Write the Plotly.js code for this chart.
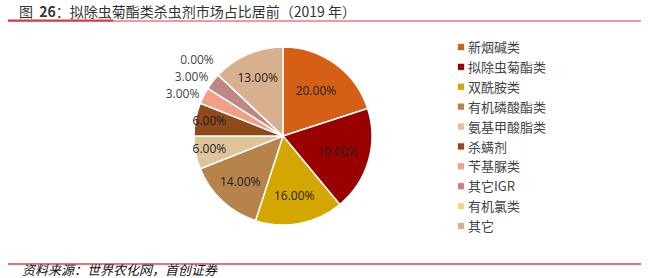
<!DOCTYPE html>
<html><head><meta charset="utf-8">
<script src="https://cdn.plot.ly/plotly-3.0.1.min.js"></script>
<style>
html,body{margin:0;padding:0;background:#fff;}
#chart{width:667px;height:278px;}
#chart .legendpie{transform: translate(33px,0px) scale(0.6);}
#chart path.textline{display:none;}
</style></head>
<body><div id="chart"></div>
<script>
const categories = ['新烟碱类','拟除虫菊酯类','双酰胺类','有机磷酸酯类','氨基甲酸脂类','杀螨剂','苄基脲类','其它IGR','有机氯类','其它'];
const shares = [20, 19, 16, 14, 6, 6, 3, 3, 0, 13];
const colors = ['#D56015','#990000','#D4A700','#B5834B','#DFC49A','#8E4A1C','#F0A084','#C08585','#F7D48A','#D8B08E'];
const textPositions = ['inside','inside','inside','inside','inside','inside','outside','outside','outside','inside'];
const titleText = '图  <b>26</b>：拟除虫菊酯类杀虫剂市场占比居前（2019 年）';
const sourceText = '资料来源：世界农化网，首创证券';

const W = 667, H = 278;
const cx = 283, cy = 136, r = 89;

const trace = {
  type: 'pie',
  labels: categories,
  values: shares,
  sort: false,
  direction: 'clockwise',
  rotation: 0,
  marker: {colors: colors, line: {color: '#ffffff', width: 1.5}},
  texttemplate: '%{value:.2f}%',
  textposition: textPositions,
  insidetextorientation: 'horizontal',
  textfont: {family: 'Open Sans, Noto Sans CJK SC', size: 12, color: '#222'},
  outsidetextfont: {family: 'Open Sans, Noto Sans CJK SC', size: 12, color: '#444'},
  hoverinfo: 'none',
  domain: {x: [(cx - r) / W, (cx + r) / W], y: [(H - cy - r) / H, (H - cy + r) / H]}
};

const layout = {
  width: W, height: H,
  margin: {l: 0, r: 0, t: 0, b: 0},
  paper_bgcolor: '#ffffff',
  showlegend: true,
  legend: {
    x: 428 / W, y: 1 - 32 / H, xanchor: 'left', yanchor: 'top',
    font: {family: 'Noto Sans CJK SC', size: 13, color: '#444'},
    tracegroupgap: 0, bgcolor: 'rgba(0,0,0,0)'
  },
  shapes: [
    {type: 'line', xref: 'paper', yref: 'paper', x0: 8 / W, x1: 641 / W, y0: 1 - 21 / H, y1: 1 - 21 / H, line: {color: '#D9363E', width: 1}},
    {type: 'line', xref: 'paper', yref: 'paper', x0: 8 / W, x1: 113 / W, y0: 1 - 20.5 / H, y1: 1 - 20.5 / H, line: {color: '#D9363E', width: 2}},
    {type: 'line', xref: 'paper', yref: 'paper', x0: 8 / W, x1: 641 / W, y0: 1 - 264 / H, y1: 1 - 264 / H, line: {color: '#E0454F', width: 1.5}}
  ],
  annotations: [
    {text: titleText, xref: 'paper', yref: 'paper', x: 17 / W, y: 1 - 11 / H,
     xanchor: 'left', yanchor: 'middle', align: 'left', showarrow: false,
     font: {family: 'Noto Sans CJK SC', size: 14, color: '#333'}},
    {text: '<i>' + sourceText + '</i>', xref: 'paper', yref: 'paper', x: 20 / W, y: 1 - 269.5 / H,
     xanchor: 'left', yanchor: 'middle', align: 'left', showarrow: false,
     font: {family: 'Noto Sans CJK SC', size: 13, color: '#111'}}
  ]
};

Plotly.newPlot('chart', [trace], layout, {displayModeBar: false, staticPlot: true}).then(function () {
  document.querySelectorAll('#chart text.slicetext').forEach(function (t) {
    const tr = t.getAttribute('transform');
    if (tr) t.setAttribute('transform', tr.replace(/scale\([^)]*\)/, 'scale(1)'));
  });
});
</script>
</body></html>
